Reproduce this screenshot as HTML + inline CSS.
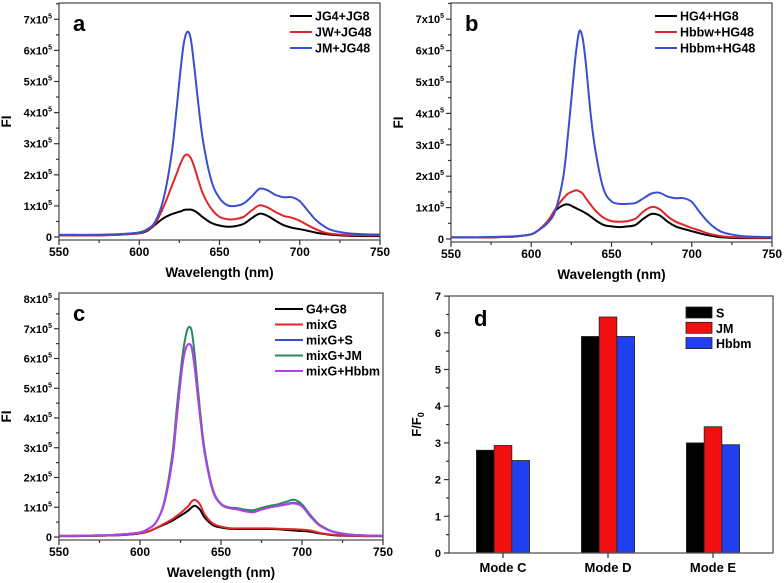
<!DOCTYPE html>
<html><head><meta charset="utf-8"><style>
body{margin:0;background:#fff;}
svg{display:block;font-family:"Liberation Sans",Arial,sans-serif;font-weight:bold;}
</style></head><body>
<svg id="fig" width="784" height="583" viewBox="0 0 784 583"></svg>
<script>
// ---- data ----
const wl = [550,560,570,580,590,600,605,610,615,620,623,626,628,630,632,634,637,640,645,650,655,660,665,670,675,680,685,690,695,700,705,710,715,720,730,740,750];
// panel a (units of 1e5)
const aJG = [0.05,0.05,0.05,0.06,0.08,0.12,0.2,0.4,0.6,0.73,0.78,0.83,0.87,0.88,0.88,0.85,0.75,0.62,0.45,0.37,0.33,0.35,0.42,0.6,0.75,0.68,0.52,0.38,0.3,0.25,0.2,0.14,0.1,0.07,0.04,0.03,0.03];
const aJW = [0.05,0.05,0.05,0.06,0.08,0.13,0.22,0.45,0.95,1.6,2.0,2.4,2.6,2.65,2.55,2.3,1.8,1.35,0.9,0.65,0.57,0.58,0.65,0.85,1.02,0.95,0.8,0.68,0.62,0.52,0.38,0.25,0.15,0.1,0.06,0.05,0.05];
const aJM = [0.07,0.07,0.07,0.08,0.1,0.15,0.25,0.5,1.2,2.6,4.0,5.5,6.3,6.6,6.4,5.6,4.2,3.0,1.8,1.25,1.02,1.0,1.08,1.3,1.55,1.5,1.35,1.28,1.28,1.15,0.85,0.55,0.35,0.22,0.12,0.09,0.08];
// panel b
const bHG = [0.05,0.05,0.05,0.06,0.08,0.15,0.3,0.55,0.9,1.08,1.1,1.03,0.98,0.93,0.88,0.82,0.72,0.6,0.45,0.4,0.38,0.4,0.45,0.65,0.8,0.75,0.55,0.4,0.32,0.25,0.18,0.12,0.08,0.05,0.03,0.03,0.03];
const bHbbw = [0.05,0.05,0.05,0.06,0.08,0.15,0.3,0.55,0.95,1.3,1.45,1.52,1.55,1.52,1.45,1.3,1.1,0.9,0.68,0.57,0.55,0.57,0.65,0.88,1.02,0.95,0.72,0.55,0.45,0.35,0.27,0.18,0.12,0.08,0.05,0.04,0.04];
const bHbbm = [0.05,0.05,0.06,0.07,0.09,0.15,0.3,0.5,0.9,2.0,3.4,5.0,6.0,6.62,6.4,5.6,4.0,2.8,1.6,1.2,1.12,1.12,1.15,1.3,1.45,1.47,1.35,1.3,1.3,1.18,0.85,0.55,0.33,0.2,0.1,0.07,0.06];
// panel c
const cG = [0.03,0.03,0.04,0.05,0.07,0.12,0.18,0.3,0.42,0.55,0.65,0.75,0.82,0.9,1.0,1.05,0.92,0.65,0.4,0.32,0.28,0.27,0.27,0.27,0.27,0.27,0.26,0.24,0.22,0.2,0.18,0.13,0.09,0.06,0.04,0.03,0.03];
const cMix = [0.03,0.03,0.04,0.05,0.07,0.12,0.18,0.3,0.45,0.6,0.72,0.85,0.95,1.05,1.2,1.25,1.1,0.75,0.45,0.35,0.3,0.29,0.29,0.29,0.29,0.29,0.28,0.27,0.26,0.25,0.22,0.15,0.1,0.07,0.04,0.03,0.03];
const cS = [0.04,0.04,0.05,0.06,0.09,0.15,0.27,0.5,1.15,2.6,4.2,5.7,6.3,6.48,6.35,5.6,4.1,2.8,1.55,1.1,0.97,0.93,0.88,0.85,0.93,1.0,1.05,1.1,1.15,1.05,0.72,0.43,0.27,0.16,0.08,0.05,0.04];
const cJM = [0.04,0.04,0.05,0.06,0.09,0.15,0.27,0.5,1.2,2.8,4.5,6.0,6.7,7.05,6.9,6.0,4.3,2.9,1.6,1.12,1.0,0.97,0.92,0.9,0.98,1.05,1.1,1.18,1.25,1.1,0.75,0.45,0.28,0.17,0.08,0.05,0.04];
const cHbbm = [0.04,0.04,0.05,0.06,0.09,0.15,0.27,0.5,1.15,2.6,4.2,5.7,6.3,6.48,6.35,5.6,4.1,2.8,1.55,1.1,0.97,0.93,0.86,0.83,0.92,0.99,1.04,1.09,1.13,1.03,0.7,0.42,0.26,0.16,0.08,0.05,0.04];
// panel d
const modes = ["Mode C","Mode D","Mode E"];
const dS = [2.8,5.9,3.0];
const dJM = [2.93,6.43,3.44];
const dHbbm = [2.52,5.9,2.95];

const NS="http://www.w3.org/2000/svg";
const svg=document.getElementById('fig');
function mk(tag,attrs,parent,text){const e=document.createElementNS(NS,tag);for(const k in attrs)e.setAttribute(k,attrs[k]);if(text!==undefined)e.textContent=text;(parent||svg).appendChild(e);return e;}
function smoothPath(p){
  let d='M'+p[0][0].toFixed(1)+','+p[0][1].toFixed(1);
  for(let i=0;i<p.length-1;i++){
    const p0=p[i-1]||p[i],p1=p[i],p2=p[i+1],p3=p[i+2]||p2;
    const c1x=p1[0]+(p2[0]-p0[0])/6,c1y=p1[1]+(p2[1]-p0[1])/6;
    const c2x=p2[0]-(p3[0]-p1[0])/6,c2y=p2[1]-(p3[1]-p1[1])/6;
    d+=` C${c1x.toFixed(1)},${c1y.toFixed(1)} ${c2x.toFixed(1)},${c2y.toFixed(1)} ${p2[0].toFixed(1)},${p2[1].toFixed(1)}`;
  }
  return d;
}

function spectrum(P){
  const g=mk('g',{});
  
  
  const X=v=>P.x0+(v-550)/200*(P.x1-P.x0);
  const Y=v=>P.y0-v*P.per;
  P.series.forEach(s=>{
    const pts=wl.map((w,i)=>[X(w),Y(s.v[i])]);
    const pl=mk('path',{d:smoothPath(pts),fill:'none',stroke:s.c,'stroke-width':2,'stroke-linejoin':'round'},g);
    
    
  });
  const fr=mk('rect',{x:P.x0,y:P.top,width:P.x1-P.x0,height:P.bot-P.top,fill:'none',stroke:'#555','stroke-width':1.3},g);
  
  
  for(let v=550;v<=750;v+=25){const x=X(v);const maj=v%50===0;mk('line',{x1:x,x2:x,y1:P.bot,y2:P.bot+(maj?5:3),stroke:'#333','stroke-width':1.2},g);
    if(maj){const t=mk('text',{x:x,y:P.bot+16,'text-anchor':'middle','font-size':12},g,String(v));}}
  for(let k=0;k<=P.ymax;k+=0.5){const y=Y(k);if(y<P.top-1)continue;const maj=Math.abs(k-Math.round(k))<1e-9;mk('line',{x1:P.x0,x2:P.x0-(maj?5:3),y1:y,y2:y,stroke:'#333','stroke-width':1.2},g);
    if(maj){const t=mk('text',{x:P.x0-7,y:y+4,'text-anchor':'end','font-size':11},g);
      if(k===0)t.textContent='0';else{t.textContent=k+'x10';mk('tspan',{dy:-5,'font-size':7},t,'5');}}}
  const xt=mk('text',{x:(P.x0+P.x1)/2,y:P.bot+37,'text-anchor':'middle','font-size':13.5},g,'Wavelength (nm)');
  
  const yt=mk('text',{x:0,y:0,'text-anchor':'middle','font-size':13.5,transform:`translate(${P.x0-48},${(P.top+P.bot)/2}) rotate(-90)`},g,'FI');
  
  const pl=mk('text',{x:P.x0+14,y:P.top+28,'font-size':22},g,P.label);
  
  P.series.forEach((s,i)=>{const y=P.ly+i*P.ld;const lg=mk('g',{},g);
    
    mk('line',{x1:P.lx,x2:P.lx+P.lw,y1:y,y2:y,stroke:s.c,'stroke-width':2},lg);
    mk('text',{x:P.lx+P.lw+3,y:y+4.5,'font-size':12.5},lg,s.n);});
}
spectrum({name:'panel-a',label:'a',x0:59,x1:380,top:3,bot:240,y0:237,per:31.1,ymax:7.5,lx:290,lw:22,ly:16,ld:16,
  series:[{n:'JG4+JG8',c:'#000',v:aJG},{n:'JW+JG48',c:'#e0262a',v:aJW},{n:'JM+JG48',c:'#3a4fd0',v:aJM}]});
spectrum({name:'panel-b',label:'b',x0:451,x1:772,top:3,bot:242,y0:239,per:31.4,ymax:7.5,lx:655,lw:22,ly:16,ld:16,
  series:[{n:'HG4+HG8',c:'#000',v:bHG},{n:'Hbbw+HG48',c:'#e0262a',v:bHbbw},{n:'Hbbm+HG48',c:'#3a4fd0',v:bHbbm}]});
spectrum({name:'panel-c',label:'c',x0:59,x1:383,top:293,bot:540,y0:537,per:29.75,ymax:8,lx:275,lw:28,ly:309,ld:15.5,
  series:[{n:'G4+G8',c:'#000',v:cG},{n:'mixG',c:'#e0262a',v:cMix},{n:'mixG+S',c:'#3a4fd0',v:cS},{n:'mixG+JM',c:'#2a8a5a',v:cJM},{n:'mixG+Hbbm',c:'#b040e8',v:cHbbm}]});

(function(){
  const g=mk('g',{});
  
  
  const x0=449,x1=773,top=296,bot=553,per=36.7;
  const Y=v=>bot-v*per;
  const XC=i=>503+i*105;
  const bw=17.7;
  const sets=[{n:'S',c:'#000',v:dS},{n:'JM',c:'#f01010',v:dJM},{n:'Hbbm',c:'#2040f0',v:dHbbm}];
  sets.forEach((s,j)=>{s.v.forEach((v,i)=>{const r=mk('rect',{x:XC(i)+(j-1.5)*bw,y:Y(v),width:bw,height:bot-Y(v),fill:s.c,stroke:'#222','stroke-width':0.8},g);
    
    });});
  const fr=mk('rect',{x:x0,y:top,width:x1-x0,height:bot-top,fill:'none',stroke:'#555','stroke-width':1.3},g);
  
  for(let k=0;k<=7;k+=0.5){const y=Y(k);const maj=k%1===0;mk('line',{x1:x0,x2:x0-(maj?5:3),y1:y,y2:y,stroke:'#333','stroke-width':1.2},g);
    if(maj){const t=mk('text',{x:x0-8,y:y+4,'text-anchor':'end','font-size':11},g,String(k));}}
  modes.forEach((m,i)=>{mk('line',{x1:XC(i),x2:XC(i),y1:bot,y2:bot+5,stroke:'#333','stroke-width':1.2},g);
    const t=mk('text',{x:XC(i),y:bot+19,'text-anchor':'middle','font-size':13},g,m);});
  const yt=mk('text',{x:0,y:0,'text-anchor':'middle','font-size':13,transform:`translate(${x0-28},${(top+bot)/2}) rotate(-90)`},g,'F/F');
  mk('tspan',{dy:3,'font-size':9},yt,'0');
  
  const pl=mk('text',{x:x0+25,y:top+30,'font-size':22},g,'d');
  
  sets.forEach((s,j)=>{const y=313+j*15.3;const lg=mk('g',{},g);
    
    mk('rect',{x:686,y:y-6,width:26,height:11,fill:s.c,stroke:'#222','stroke-width':0.8},lg);
    mk('text',{x:716,y:y+4.5,'font-size':12.5},lg,s.n);});
})();
</script>
</body></html>
